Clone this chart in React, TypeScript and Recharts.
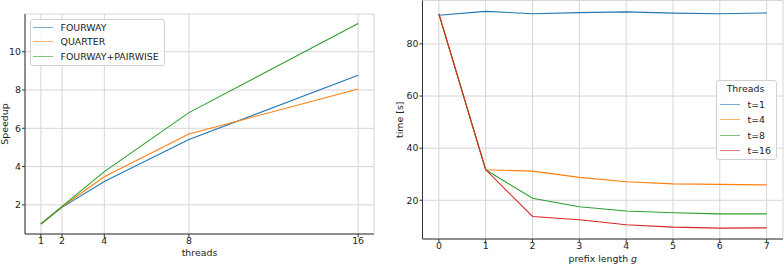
import { LineChart, Line, XAxis, YAxis, CartesianGrid, Legend } from "recharts"

const threads = [1, 2, 4, 8, 16]
const fourway = [1, 1.87, 3.22, 5.41, 8.77]
const quarter = [1, 1.9, 3.47, 5.7, 8.05]
const fourwayPairwise = [1, 1.92, 3.74, 6.82, 11.47]
const speedupNames = ["FOURWAY", "QUARTER", "FOURWAY+PAIRWISE"]

const prefixLength = [0, 1, 2, 3, 4, 5, 6, 7]
const t1 = [91.0, 92.5, 91.6, 92.0, 92.3, 91.8, 91.6, 91.9]
const t4 = [91.5, 31.7, 31.2, 28.8, 27.1, 26.3, 26.1, 25.9]
const t8 = [91.5, 31.7, 20.8, 17.5, 15.9, 15.2, 14.8, 14.8]
const t16 = [91.5, 31.7, 13.8, 12.5, 10.6, 9.7, 9.3, 9.4]
const threadNames = ["t=1", "t=4", "t=8", "t=16"]

const speedupTicks = [2, 4, 6, 8, 10]
const timeTicks = [20, 40, 60, 80]

const BLUE = "#1f77b4"
const ORANGE = "#ff7f0e"
const GREEN = "#2ca02c"
const RED = "#d62728"
const FONT = "DejaVu Sans"
const FS = 9.4
const GRID = "#d6d6d6"
const FRAME = "#333"

const speedupData = threads.map((t, i) => ({
  threads: t,
  [speedupNames[0]]: fourway[i],
  [speedupNames[1]]: quarter[i],
  [speedupNames[2]]: fourwayPairwise[i],
}))

const timeData = prefixLength.map((g, i) => ({
  g,
  [threadNames[0]]: t1[i],
  [threadNames[1]]: t4[i],
  [threadNames[2]]: t8[i],
  [threadNames[3]]: t16[i],
}))

const tickStyle = { fill: "#222", fontSize: FS, fontFamily: FONT }

// legend box like matplotlib's, keeps series order
const boxLegend = (order: string[], title?: string, padLeft = 2, rowH = 14.6) => (props: any) => {
  const items = [...(props.payload || [])].sort(
    (a: any, b: any) => order.indexOf(a.value) - order.indexOf(b.value)
  )
  return (
    <div
      style={{
        border: "1px solid #d0d0d0",
        borderRadius: 3,
        background: "rgba(255,255,255,0.85)",
        padding: `0 5px 1px ${padLeft}px`,
        fontFamily: FONT,
        fontSize: FS,
        color: "#222",
        lineHeight: 1,
      }}
    >
      {title && (
        <div style={{ height: 16, display: "flex", alignItems: "center", justifyContent: "center" }}>{title}</div>
      )}
      {items.map((p: any) => (
        <div key={p.value} style={{ height: rowH, display: "flex", alignItems: "center", whiteSpace: "nowrap" }}>
          <span style={{ display: "inline-block", width: 20, borderTop: `1.5px solid ${p.color}`, opacity: 0.6, marginRight: 7.5 }} />
          {p.value}
        </div>
      ))}
    </div>
  )
}

const SpeedupChart = () => (
  <LineChart width={392} height={264} data={speedupData} margin={{ top: 14, right: 18, bottom: 0, left: 0 }}>
    <CartesianGrid stroke={GRID} />
    <XAxis
      dataKey="threads"
      type="number"
      domain={[0.25, 16.75]}
      ticks={threads}
      height={30}
      tickSize={3.5}
      tickMargin={0}
      stroke={FRAME}
      tick={tickStyle}
      label={{ value: "threads", position: "insideBottom", offset: 8, style: { ...tickStyle } }}
    />
    <XAxis xAxisId="top" orientation="top" type="number" domain={[0.25, 16.75]} height={0} tick={false} tickLine={false} stroke={FRAME} />
    <YAxis
      type="number"
      domain={[0.48, 11.97]}
      ticks={speedupTicks}
      width={25}
      tickSize={3}
      tickMargin={1}
      stroke={FRAME}
      tick={tickStyle}
      label={{ value: "Speedup", angle: -90, position: "insideLeft", offset: 5, style: { ...tickStyle, textAnchor: "middle" } }}
    />
    <YAxis yAxisId="right" orientation="right" width={0} tick={false} tickLine={false} stroke={FRAME} />
    <Legend
      layout="vertical"
      align="center"
      verticalAlign="middle"
      content={boxLegend(speedupNames)}
      wrapperStyle={{ left: 30, top: 19, width: "auto", height: "auto" }}
    />
    <Line dataKey={speedupNames[0]} stroke={BLUE} strokeWidth={1.1} dot={false} isAnimationActive={false} />
    <Line dataKey={speedupNames[1]} stroke={ORANGE} strokeWidth={1.1} dot={false} isAnimationActive={false} />
    <Line dataKey={speedupNames[2]} stroke={GREEN} strokeWidth={1.1} dot={false} isAnimationActive={false} />
  </LineChart>
)

const prefixLabel = (props: any) => {
  const vb = props.viewBox
  return (
    <text x={vb.x + vb.width / 2} y={vb.y + vb.height - 2} textAnchor="middle" fill="#222" fontSize={FS} fontFamily={FONT}>
      prefix length <tspan fontStyle="italic">g</tspan>
    </text>
  )
}

const TimeChart = () => (
  <LineChart width={392} height={264} data={timeData} margin={{ top: 0.5, right: 1, bottom: 0, left: 0 }}>
    <CartesianGrid stroke={GRID} />
    <XAxis
      dataKey="g"
      type="number"
      domain={[-0.35, 7.35]}
      ticks={prefixLength}
      height={25}
      tickSize={3.5}
      tickMargin={0}
      stroke={FRAME}
      tick={tickStyle}
      label={{ content: prefixLabel }}
    />
    <XAxis xAxisId="top" orientation="top" type="number" domain={[-0.35, 7.35]} height={0} tick={false} tickLine={false} stroke={FRAME} />
    <YAxis
      type="number"
      domain={[5.14, 96.66]}
      ticks={timeTicks}
      width={30.5}
      tickSize={3}
      tickMargin={1}
      stroke={FRAME}
      tick={tickStyle}
      label={{ value: "time [s]", angle: -90, position: "insideLeft", offset: 8, style: { ...tickStyle, textAnchor: "middle" } }}
    />
    <YAxis yAxisId="right" orientation="right" width={0} tick={false} tickLine={false} stroke={FRAME} />
    <Legend
      layout="vertical"
      align="center"
      verticalAlign="middle"
      content={boxLegend(threadNames, "Threads", 3, 15.3)}
      wrapperStyle={{ left: 324, top: 80, width: "auto", height: "auto" }}
    />
    <Line dataKey={threadNames[0]} stroke={BLUE} strokeWidth={1.1} dot={false} isAnimationActive={false} />
    <Line dataKey={threadNames[1]} stroke={ORANGE} strokeWidth={1.1} dot={false} isAnimationActive={false} />
    <Line dataKey={threadNames[2]} stroke={GREEN} strokeWidth={1.1} dot={false} isAnimationActive={false} />
    <Line dataKey={threadNames[3]} stroke={RED} strokeWidth={1.1} dot={false} isAnimationActive={false} />
  </LineChart>
)

export default function App() {
  return (
    <div style={{ position: "absolute", left: 0, top: 0, width: 784, height: 264, display: "flex", background: "#fff", fontFamily: FONT }}>
      <SpeedupChart />
      <TimeChart />
    </div>
  )
}
